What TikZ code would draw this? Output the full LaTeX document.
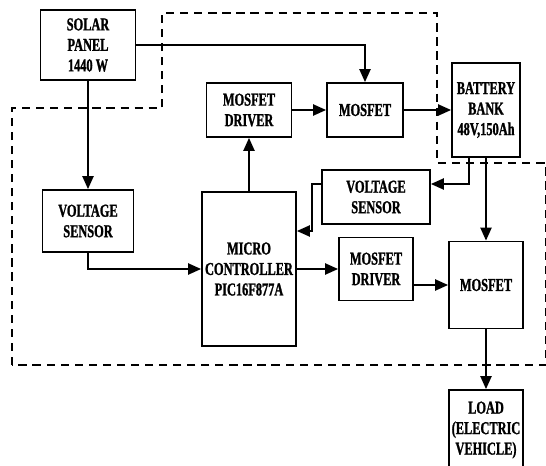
\documentclass[tikz,border=0pt]{standalone}
\usepackage{fontspec}
\setmainfont{Liberation Serif}[FakeStretch=0.68, BoldFeatures={FakeBold=1.2}]
\usepackage{tikz}
\usetikzlibrary{arrows.meta, positioning, calc}
\tikzset{
  block/.style={rectangle, draw=black, fill=white, align=center,
    inner sep=0pt, line width=1.6pt,
    font=\bfseries\fontsize{15.5}{17.5}\selectfont},
  arrow/.style={-{Triangle[length=11pt,width=9.5pt]}, line width=1.4pt, color=black},
  boundary/.style={draw=black, line width=1.4pt, dash pattern=on 7pt off 5pt}
}
\begin{document}
\begin{tikzpicture}[x=0.03cm, y=-0.03cm]
  \useasboundingbox (0,0) rectangle (546,466);

  % Controller boundary (dashed)
  \draw[boundary] (12,365) -- (12,108) -- (162,108) -- (162,13) -- (437,13)
    -- (437,163) -- (546,163) -- (546,365) -- cycle;

  % Source side
  \node[block, minimum width=2.85cm, minimum height=2.1cm] (solar) at (88,45) {SOLAR\\PANEL\\1440 W};
  \node[block, minimum width=2.73cm, minimum height=1.86cm] (vsolar) at (88,221) {VOLTAGE\\SENSOR};

  % Charging path
  \node[block, minimum width=2.55cm, minimum height=1.62cm] (drvchg) at (249,110) {MOSFET\\DRIVER};
  \node[block, minimum width=2.28cm, minimum height=1.62cm] (mosChg) at (365,110) {MOSFET};
  \node[block, minimum width=2.04cm, minimum height=2.82cm] (battery) at (486,110) {BATTERY\\BANK\\48V,150Ah};

  % Controller
  \node[block, minimum width=2.82cm, minimum height=4.62cm] (mcu) at (249,269) {MICRO\\CONTROLLER\\PIC16F877A};
  \node[block, minimum width=3.24cm, minimum height=1.62cm] (vbatt) at (376,197) {VOLTAGE\\SENSOR};

  % Load path
  \node[block, minimum width=2.22cm, minimum height=1.89cm] (drvload) at (376,269) {MOSFET\\DRIVER};
  \node[block, minimum width=2.22cm, minimum height=2.61cm] (mosLoad) at (486,285) {MOSFET};
  \node[block, minimum width=2.22cm, minimum height=2.4cm] (load) at (486,430) {LOAD\\(ELECTRIC\\VEHICLE)};

  % Connections
  \draw[arrow] (solar.east) -| (mosChg.north);
  \draw[arrow] (solar.south) -- (vsolar.north);
  \draw[arrow] (vsolar.south) |- (mcu.west);
  \draw[arrow] (mcu) -- (drvchg);
  \draw[arrow] (drvchg) -- (mosChg);
  \draw[arrow] (mosChg) -- (battery);
  \draw[arrow] ([xshift=-0.51cm]battery.south) |- ([yshift=0.39cm]vbatt.east);
  \draw[arrow] (battery) -- (mosLoad);
  \draw[arrow] ([yshift=0.39cm]vbatt.west) -- ++(-0.27cm,0) |- ([yshift=1.14cm]mcu.east);
  \draw[arrow] (mcu.east) -- (drvload.west);
  \draw[arrow] (drvload.east |- mosLoad.west) -- (mosLoad.west);
  \draw[arrow] (mosLoad) -- (load);
\end{tikzpicture}
\end{document}
